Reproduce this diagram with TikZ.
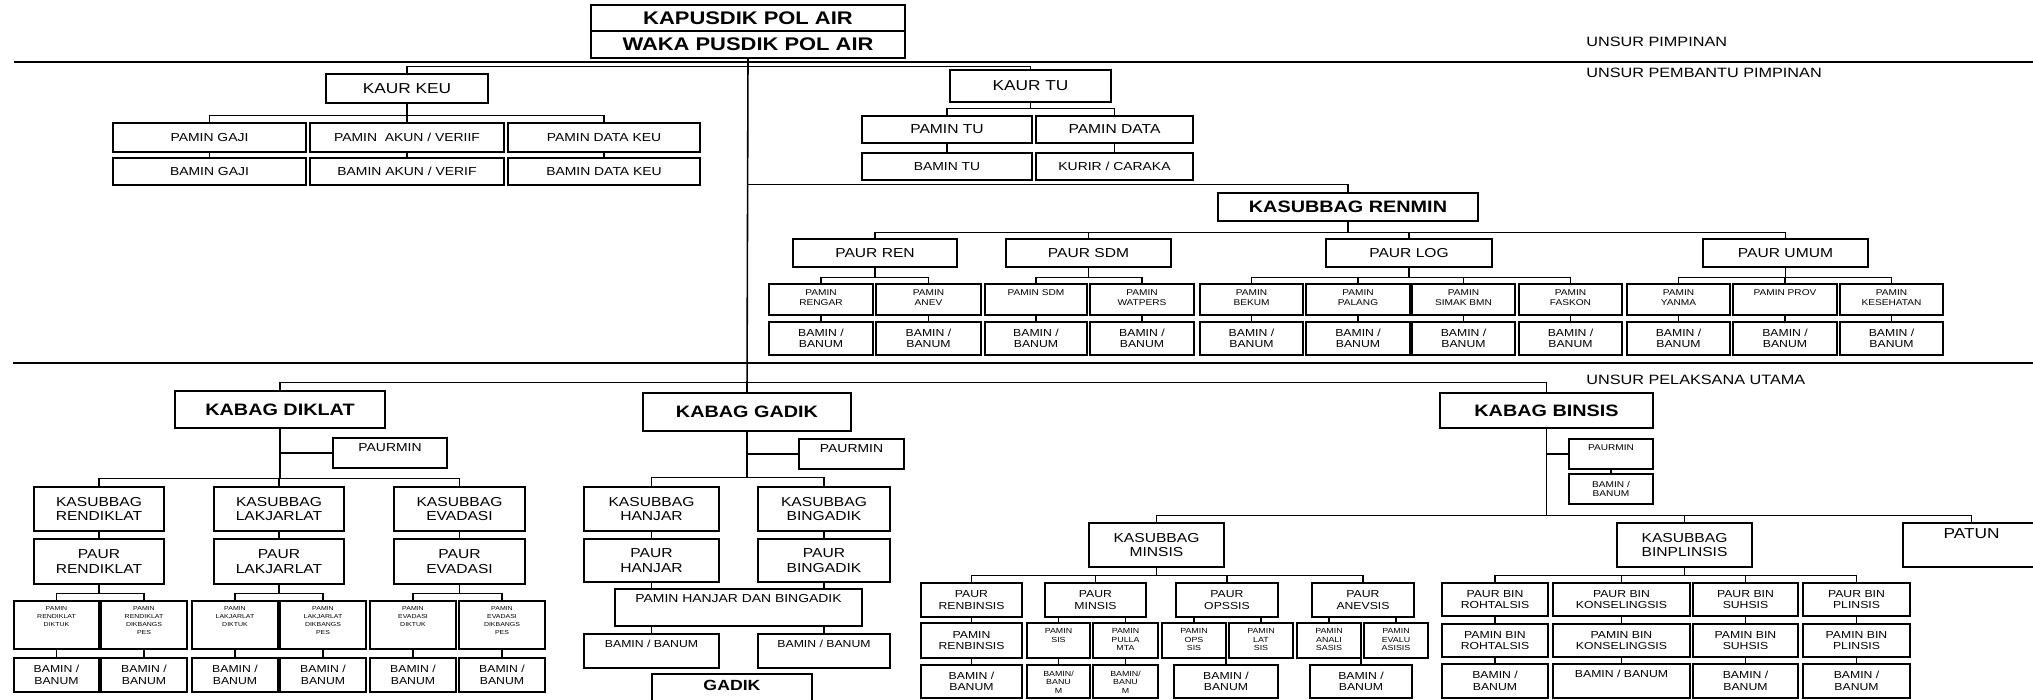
\documentclass[tikz,border=0pt]{standalone}
\usepackage{fontspec}
\setmainfont{Liberation Sans}[FakeStretch=1.2]
\usetikzlibrary{positioning, calc}

% box with centred text: [font]{name}{x1}{y1}{x2}{y2}{text}
\newcommand{\obox}[7][fpamin]{\node[box,#1,minimum width={(#5-#3)*0.02cm},minimum height={(#6-#4)*0.02cm}] (#2) at ({(#3+#5)/2},{(#4+#6)/2}) {#7};}
% box with text at the top
\newcommand{\tbox}[7][fpamin]{\node[box,minimum width={(#5-#3)*0.02cm},minimum height={(#6-#4)*0.02cm}] (#2) at ({(#3+#5)/2},{(#4+#6)/2}) {};
  \node[#1,anchor=north,inner sep=3.5pt,align=center] (#2-t) at (#2.north) {#7};}

\begin{document}
\begin{tikzpicture}[x=0.02cm, y=-0.02cm,
  box/.style={draw, line width=0.7pt, inner sep=1pt, align=center},
  conn/.style={line width=0.6pt},
  ftitle/.style={font=\fontsize{10.4}{11}\selectfont\bfseries},
  fhead/.style={font=\fontsize{9.4}{10}\selectfont\bfseries},
  fgadik/.style={font=\fontsize{8.4}{9}\selectfont\bfseries},
  fkaur/.style={font=\fontsize{8.2}{9.5}\selectfont},
  flabel/.style={font=\fontsize{7.7}{9}\selectfont},
  fpaur/.style={font=\fontsize{7.4}{8.2}\selectfont},
  fpamin/.style={font=\fontsize{6.6}{7.6}\selectfont},
  fsmall/.style={font=\fontsize{5.8}{6.5}\selectfont},
  ftiny/.style={font=\fontsize{4.8}{5.6}\selectfont},
  fmini/.style={font=\fontsize{4.2}{4.8}\selectfont},
  fmicro/.style={font=\fontsize{3.3}{4.5}\selectfont}]
\useasboundingbox (0,0) rectangle (2033,700);
\clip (0,0) rectangle (2033,700);
% Unsur pimpinan
\obox[ftitle]{kapus}{591}{5}{905}{31}{KAPUSDIK POL AIR}
\obox[ftitle]{waka}{591}{31}{905}{58}{WAKA PUSDIK POL AIR}
% separators and their labels
\draw[line width=0.7pt] (14,62) -- (2033,62);
\draw[line width=0.7pt] (13,363) -- (2033,363);
\node[flabel, anchor=west, inner sep=0] (lpimpinan) at (1586,42) {UNSUR PIMPINAN};
\node[flabel, anchor=west, inner sep=0] (lpembantu) at (1586,73) {UNSUR PEMBANTU PIMPINAN};
\node[flabel, anchor=west, inner sep=0] (lpelaksana) at (1586,380) {UNSUR PELAKSANA UTAMA};

% KAUR KEU
\obox[fkaur]{kaurkeu}{326}{74}{488}{103}{KAUR KEU}
\obox{pgaji}{113}{123}{306}{152}{PAMIN GAJI}
\obox{pakun}{310}{123}{504}{152}{PAMIN\ \ AKUN / VERIIF}
\obox{pdatakeu}{508}{123}{700}{152}{PAMIN DATA KEU}
\obox{bgaji}{113}{158}{306}{185}{BAMIN GAJI}
\obox{bakun}{310}{158}{504}{185}{BAMIN AKUN / VERIF}
\obox{bdatakeu}{508}{158}{700}{185}{BAMIN DATA KEU}
% KAUR TU
\obox[fkaur]{kaurtu}{950}{70}{1111}{102}{KAUR TU}
\obox[fpaur]{pamintu}{862}{116}{1032}{143}{PAMIN TU}
\obox[fpaur]{pamindata}{1036}{116}{1193}{143}{PAMIN DATA}
\obox{bamintu}{862}{153}{1032}{180}{BAMIN TU}
\obox{kurir}{1036}{153}{1193}{180}{KURIR / CARAKA}

% KASUBBAG RENMIN
\obox[fhead]{renmin}{1218}{193}{1478}{221}{KASUBBAG RENMIN}
\obox[fpaur]{paurren}{793}{239}{957}{267}{PAUR REN}
\obox[fpaur]{paursdm}{1006}{239}{1171}{267}{PAUR SDM}
\obox[fpaur]{paurlog}{1326}{239}{1492}{267}{PAUR LOG}
\obox[fpaur]{paurumum}{1703}{239}{1868}{267}{PAUR UMUM}
\tbox[ftiny]{pm-rengar}{769}{284}{873}{315}{PAMIN\\RENGAR}
\tbox[ftiny]{pm-anev}{876}{284}{981}{315}{PAMIN\\ANEV}
\tbox[ftiny]{pm-sdm}{985}{284}{1087}{315}{PAMIN SDM}
\tbox[ftiny]{pm-watpers}{1090}{284}{1194}{315}{PAMIN\\WATPERS}
\tbox[ftiny]{pm-bekum}{1200}{284}{1303}{315}{PAMIN\\BEKUM}
\tbox[ftiny]{pm-palang}{1306}{284}{1410}{315}{PAMIN\\PALANG}
\tbox[ftiny]{pm-simak}{1412}{284}{1515}{315}{PAMIN\\SIMAK BMN}
\tbox[ftiny]{pm-faskon}{1519}{284}{1622}{315}{PAMIN\\FASKON}
\tbox[ftiny]{pm-yanma}{1627}{284}{1730}{315}{PAMIN\\YANMA}
\tbox[ftiny]{pm-prov}{1733}{284}{1837}{315}{PAMIN PROV}
\tbox[ftiny]{pm-kes}{1840}{284}{1943}{315}{PAMIN\\KESEHATAN}
\foreach \k/\xa/\xb in {rengar/769/873, anev/876/981, sdm/985/1087, watpers/1090/1194,
  bekum/1200/1303, palang/1306/1410, simak/1412/1515, faskon/1519/1622,
  yanma/1627/1730, prov/1733/1837, kes/1840/1943} {
  \obox[fsmall]{bm-\k}{\xa}{322}{\xb}{355}{BAMIN /\\BANUM}
  \draw[conn] (pm-\k.south) -- (bm-\k.north);
}

% KABAG DIKLAT
\obox[fhead]{kdiklat}{175}{391}{385}{428}{KABAG DIKLAT}
\tbox[fpamin]{paurmin1}{333}{438}{447}{468}{PAURMIN}
\obox[fpaur]{ksrendiklat}{34}{487}{164}{531}{KASUBBAG\\RENDIKLAT}
\obox[fpaur]{kslakjarlat}{214}{487}{344}{531}{KASUBBAG\\LAKJARLAT}
\obox[fpaur]{ksevadasi}{394}{487}{525}{531}{KASUBBAG\\EVADASI}
\obox[fpaur]{prendiklat}{34}{539}{164}{584}{PAUR\\RENDIKLAT}
\obox[fpaur]{plakjarlat}{214}{539}{344}{584}{PAUR\\LAKJARLAT}
\obox[fpaur]{pevadasi}{394}{539}{525}{584}{PAUR\\EVADASI}
\tbox[fmicro]{pm-rdiktuk}{14}{601}{99}{649}{PAMIN\\RENDIKLAT\\DIKTUK}
\tbox[fmicro]{pm-rdikbang}{101}{601}{187}{649}{PAMIN\\RENDIKLAT\\DIKBANGS\\PES}
\tbox[fmicro]{pm-ldiktuk}{192}{601}{278}{649}{PAMIN\\LAKJARLAT\\DIKTUK}
\tbox[fmicro]{pm-ldikbang}{280}{601}{366}{649}{PAMIN\\LAKJARLAT\\DIKBANGS\\PES}
\tbox[fmicro]{pm-ediktuk}{370}{601}{456}{649}{PAMIN\\EVADASI\\DIKTUK}
\tbox[fmicro]{pm-edikbang}{459}{601}{545}{649}{PAMIN\\EVADASI\\DIKBANGS\\PES}
\foreach \k/\xa/\xb in {rdiktuk/14/99, rdikbang/101/187, ldiktuk/192/278,
  ldikbang/280/366, ediktuk/370/456, edikbang/459/545} {
  \obox[fsmall]{bm-\k}{\xa}{658}{\xb}{692}{BAMIN /\\BANUM}
  \draw[conn] (pm-\k.south) -- (bm-\k.north);
}

% KABAG GADIK
\obox[fhead]{kgadik}{643}{393}{851}{431}{KABAG GADIK}
\tbox[fpamin]{paurmin2}{799}{439}{904}{469}{PAURMIN}
\obox[fpaur]{kshanjar}{584}{487}{719}{531}{KASUBBAG\\HANJAR}
\obox[fpaur]{ksbingadik}{758}{487}{890}{531}{KASUBBAG\\BINGADIK}
\obox[fpaur]{phanjar}{584}{539}{719}{582}{PAUR\\HANJAR}
\obox[fpaur]{pbingadik}{758}{539}{890}{582}{PAUR\\BINGADIK}
\tbox[fpamin]{pmhb}{615}{589}{862}{626}{PAMIN HANJAR DAN BINGADIK}
\tbox[fsmall]{bmhanjar}{584}{634}{719}{668}{BAMIN / BANUM}
\tbox[fsmall]{bmbingadik}{758}{634}{890}{668}{BAMIN / BANUM}
\tbox[fgadik]{gadik}{652}{674}{812}{720}{GADIK}

% KABAG BINSIS
\obox[fhead]{kbinsis}{1440}{393}{1653}{428}{KABAG BINSIS}
\tbox[ftiny]{paurmin3}{1569}{439}{1653}{469}{PAURMIN}
\obox[ftiny]{bmbinsis}{1569}{474}{1653}{504}{BAMIN /\\BANUM}
\obox[fpaur]{ksminsis}{1089}{523}{1224}{567}{KASUBBAG\\MINSIS}
\obox[fpaur]{ksbinplinsis}{1617}{523}{1752}{567}{KASUBBAG\\BINPLINSIS}
\tbox[fkaur]{patun}{1903}{523}{2040}{567}{PATUN}
% minsis
\obox[fsmall]{prenbinsis}{921}{583}{1022}{617}{PAUR\\RENBINSIS}
\obox[fsmall]{pminsis}{1045}{583}{1146}{617}{PAUR\\MINSIS}
\obox[fsmall]{popssis}{1176}{583}{1278}{617}{PAUR\\OPSSIS}
\obox[fsmall]{panevsis}{1312}{583}{1414}{617}{PAUR\\ANEVSIS}
\obox[fsmall]{pmrenbinsis}{921}{623}{1022}{658}{PAMIN\\RENBINSIS}
\tbox[fmini]{pmsis}{1027}{623}{1090}{658}{PAMIN\\SIS}
\tbox[fmini]{pmpulla}{1093}{623}{1158}{658}{PAMIN\\PULLA\\MTA}
\tbox[fmini]{pmops}{1162}{623}{1226}{658}{PAMIN\\OPS\\SIS}
\tbox[fmini]{pmlat}{1229}{623}{1293}{658}{PAMIN\\LAT\\SIS}
\tbox[fmini]{pmanali}{1297}{623}{1361}{658}{PAMIN\\ANALI\\SASIS}
\tbox[fmini]{pmevalu}{1364}{623}{1428}{658}{PAMIN\\EVALU\\ASISIS}
\obox[fsmall]{bmrenbinsis}{921}{665}{1022}{698}{BAMIN /\\BANUM}
\tbox[fmini]{bmsis}{1027}{665}{1090}{698}{BAMIN/\\BANU\\M}
\tbox[fmini]{bmpulla}{1093}{665}{1158}{698}{BAMIN/\\BANU\\M}
\obox[fsmall]{bmopssis}{1174}{665}{1278}{698}{BAMIN /\\BANUM}
\obox[fsmall]{bmanevsis}{1310}{665}{1412}{698}{BAMIN /\\BANUM}
% binplinsis
\obox[fsmall]{pbroh}{1442}{583}{1548}{616}{PAUR BIN\\ROHTALSIS}
\obox[fsmall]{pbkons}{1553}{583}{1690}{616}{PAUR BIN\\KONSELINGSIS}
\obox[fsmall]{pbsuh}{1693}{583}{1798}{616}{PAUR BIN\\SUHSIS}
\obox[fsmall]{pbplin}{1803}{583}{1910}{616}{PAUR BIN\\PLINSIS}
\obox[fsmall]{pmbroh}{1442}{624}{1548}{657}{PAMIN BIN\\ROHTALSIS}
\obox[fsmall]{pmbkons}{1553}{624}{1690}{657}{PAMIN BIN\\KONSELINGSIS}
\obox[fsmall]{pmbsuh}{1693}{624}{1798}{657}{PAMIN BIN\\SUHSIS}
\obox[fsmall]{pmbplin}{1803}{624}{1910}{657}{PAMIN BIN\\PLINSIS}
\obox[fsmall]{bmbroh}{1442}{664}{1548}{698}{BAMIN /\\BANUM}
\tbox[fsmall]{bmbkons}{1553}{664}{1690}{698}{BAMIN / BANUM}
\obox[fsmall]{bmbsuh}{1693}{664}{1798}{698}{BAMIN /\\BANUM}
\obox[fsmall]{bmbplin}{1803}{664}{1910}{698}{BAMIN /\\BANUM}

% Connectors
\draw[line width=0.9pt] (waka.south) -- (kgadik.north);
\draw[conn] (kaurkeu.north) -- ++(0,-7) -| (kaurtu.north);
\draw[conn] (renmin.north) -- ++(0,-8) coordinate (rb) -- (rb -| waka.south);
\draw[conn] (kdiklat.north) -- ++(0,-8) -| (kbinsis.north);
\foreach \c in {pgaji,pakun,pdatakeu} \draw[conn] (kaurkeu.south) -- ++(0,12) -| (\c.north);
\foreach \a/\b in {pgaji/bgaji, pakun/bakun, pdatakeu/bdatakeu, pamintu/bamintu, pamindata/kurir}
  \draw[conn] (\a.south) -- (\b.north);
\foreach \c in {pamintu,pamindata} \draw[conn] (kaurtu.south) -- ++(0,6) -| (\c.north);
\foreach \c in {paurren,paursdm,paurlog,paurumum} \draw[conn] (renmin.south) -- ++(0,11) -| (\c.north);
\foreach \p/\c in {paurren/rengar, paurren/anev, paursdm/sdm, paursdm/watpers, paurlog/bekum,
  paurlog/palang, paurlog/simak, paurlog/faskon, paurumum/yanma, paurumum/prov, paurumum/kes}
  \draw[conn] (\p.south) -- ++(0,10) -| (pm-\c.north);
% diklat
\draw[conn] (paurmin1.west) -- (paurmin1.west -| kdiklat.south);
\foreach \c in {ksrendiklat,kslakjarlat,ksevadasi} \draw[conn] (kdiklat.south) -- ++(0,50) -| (\c.north);
\foreach \a/\b in {ksrendiklat/prendiklat, kslakjarlat/plakjarlat, ksevadasi/pevadasi}
  \draw[conn] (\a.south) -- (\b.north);
\foreach \p/\c in {prendiklat/rdiktuk, prendiklat/rdikbang, plakjarlat/ldiktuk,
  plakjarlat/ldikbang, pevadasi/ediktuk, pevadasi/edikbang}
  \draw[conn] (\p.south) -- ++(0,9) -| (pm-\c.north);
% gadik
\draw[conn] (paurmin2.west) -- (paurmin2.west -| kgadik.south);
\foreach \c in {kshanjar,ksbingadik} \draw[conn] (kgadik.south) -- ++(0,46) -| (\c.north);
\draw[conn] (kshanjar.south) -- (phanjar.north);
\draw[conn] (ksbingadik.south) -- (pbingadik.north);
\foreach \c in {phanjar,pbingadik} \draw[conn] (\c.south) -- (\c.south |- pmhb.north);
\foreach \c in {bmhanjar,bmbingadik} \draw[conn] (\c.north) -- (\c.north |- pmhb.south);
% binsis
\draw[conn] (paurmin3.west) -- (paurmin3.west -| kbinsis.south);
\draw[conn] (paurmin3.south) -- (bmbinsis.north);
\foreach \c in {ksminsis,ksbinplinsis,patun} \draw[conn] (kbinsis.south) -- ++(0,87) -| (\c.north);
\foreach \c in {prenbinsis,pminsis,popssis,panevsis} \draw[conn] (ksminsis.south) -- ++(0,8) -| (\c.north);
\draw[conn] (prenbinsis.south) -- (pmrenbinsis.north);
\draw[conn] (pmrenbinsis.south) -- (bmrenbinsis.north);
\foreach \p/\c in {pminsis/pmsis, pminsis/pmpulla, popssis/pmops, popssis/pmlat,
  panevsis/pmanali, panevsis/pmevalu}
  \draw[conn] (\c.north) -- (\c.north |- \p.south);
\draw[conn] (pmsis.south) -- (bmsis.north);
\draw[conn] (pmpulla.south) -- (bmpulla.north);
\draw[conn] (bmopssis.north) -- (bmopssis.north |- pmops.south);
\draw[conn] (bmanevsis.north) -- (bmanevsis.north |- pmanali.south);
\foreach \c in {pbroh,pbkons,pbsuh,pbplin} \draw[conn] (ksbinplinsis.south) -- ++(0,8) -| (\c.north);
\foreach \a/\b/\d in {pbroh/pmbroh/bmbroh, pbkons/pmbkons/bmbkons, pbsuh/pmbsuh/bmbsuh, pbplin/pmbplin/bmbplin}
  {\draw[conn] (\a.south) -- (\b.north); \draw[conn] (\b.south) -- (\d.north);}
\end{tikzpicture}
\end{document}
